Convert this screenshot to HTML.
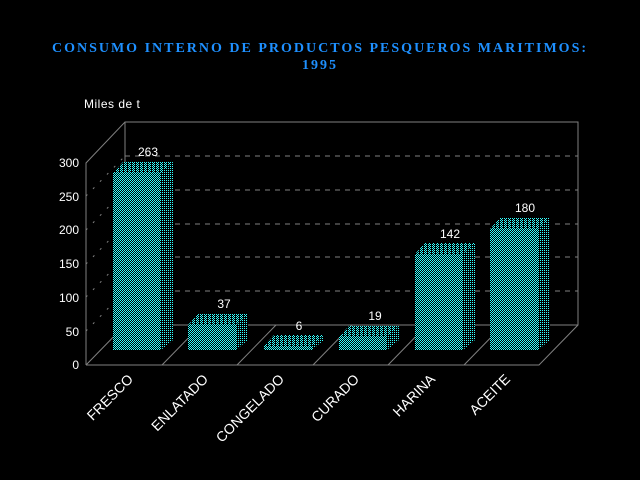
<!DOCTYPE html>
<html><head><meta charset="utf-8"><style>
html,body{margin:0;padding:0;background:#000;width:640px;height:480px;overflow:hidden}
</style></head><body>
<svg width="640" height="480" xmlns="http://www.w3.org/2000/svg" style="display:block">
<defs>
<pattern id="pf" width="2" height="2" patternUnits="userSpaceOnUse"><rect width="2" height="2" fill="#000"/><rect width="1" height="1" fill="#3ff"/><rect x="1" y="1" width="1" height="1" fill="#3ff"/></pattern>
<pattern id="pt" width="4" height="2" patternUnits="userSpaceOnUse"><rect width="4" height="2" fill="#000"/><rect width="1" height="1" fill="#3ff"/><rect x="2" width="1" height="1" fill="#3ff"/><rect x="1" y="1" width="1" height="1" fill="#3ff"/></pattern>
<pattern id="ps" width="2" height="2" patternUnits="userSpaceOnUse"><rect width="2" height="2" fill="#000"/><rect width="1" height="1" fill="#3ff"/></pattern>
</defs>
<text x="320" y="52" fill="#1e90ff" font-family="Liberation Serif, serif" font-weight="bold" font-size="14" letter-spacing="2" text-anchor="middle">CONSUMO INTERNO DE PRODUCTOS PESQUEROS MARITIMOS:</text>
<text x="320" y="69" fill="#1e90ff" font-family="Liberation Serif, serif" font-weight="bold" font-size="14" letter-spacing="2" text-anchor="middle">1995</text>
<text x="84" y="108" fill="#fff" font-family="Liberation Sans, sans-serif" font-size="12" letter-spacing="0.5">Miles de t</text>
<g stroke="#808080" stroke-width="1" fill="none">
<polyline points="86,365 86,163 125,122 578,122 578,325 539,365 86,365"/>
<line x1="125" y1="122" x2="125" y2="325"/>
<line x1="125" y1="325" x2="578" y2="325"/>
<line x1="86" y1="365" x2="125" y2="325"/>
<line x1="162" y1="365" x2="201" y2="325"/>
<line x1="237" y1="365" x2="276" y2="325"/>
<line x1="313" y1="365" x2="352" y2="325"/>
<line x1="388" y1="365" x2="427" y2="325"/>
<line x1="464" y1="365" x2="503" y2="325"/>
</g>
<g stroke="#808080" stroke-width="1" stroke-dasharray="5,5">
<line x1="125" y1="291" x2="578" y2="291"/><line x1="125" y1="257" x2="578" y2="257"/>
<line x1="125" y1="224" x2="578" y2="224"/><line x1="125" y1="190" x2="578" y2="190"/>
<line x1="125" y1="156" x2="578" y2="156"/>
<line x1="86" y1="331" x2="125" y2="291" stroke-dasharray="2,8"/><line x1="86" y1="297" x2="125" y2="257" stroke-dasharray="2,8"/>
<line x1="86" y1="264" x2="125" y2="224" stroke-dasharray="2,8"/><line x1="86" y1="230" x2="125" y2="190" stroke-dasharray="2,8"/>
<line x1="86" y1="196" x2="125" y2="156" stroke-dasharray="2,8"/>
</g>
<g fill="#fff" font-family="Liberation Sans, sans-serif" font-size="12" text-anchor="end">
<text x="79" y="369">0</text><text x="79" y="336">50</text><text x="79" y="302">100</text>
<text x="79" y="268">150</text><text x="79" y="234">200</text><text x="79" y="201">250</text><text x="79" y="167">300</text>
</g>
<g>
<polygon points="113,173 123,162 173,162 161,173" fill="url(#pt)"/><polygon points="161,173 173,162 173,340 161,350" fill="url(#ps)"/><rect x="113" y="173" width="48" height="177" fill="url(#pf)"/>
<polygon points="188,325 198,314 248,314 236,325" fill="url(#pt)"/><polygon points="236,325 248,314 248,340 236,350" fill="url(#ps)"/><rect x="188" y="325" width="48" height="25" fill="url(#pf)"/>
<polygon points="264,346 274,335 324,335 312,346" fill="url(#pt)"/><polygon points="312,346 324,335 324,340 312,350" fill="url(#ps)"/><rect x="264" y="346" width="48" height="4" fill="url(#pf)"/>
<polygon points="339,337 349,326 399,326 387,337" fill="url(#pt)"/><polygon points="387,337 399,326 399,340 387,350" fill="url(#ps)"/><rect x="339" y="337" width="48" height="13" fill="url(#pf)"/>
<polygon points="415,254 425,243 475,243 463,254" fill="url(#pt)"/><polygon points="463,254 475,243 475,340 463,350" fill="url(#ps)"/><rect x="415" y="254" width="48" height="96" fill="url(#pf)"/>
<polygon points="490,229 500,218 550,218 538,229" fill="url(#pt)"/><polygon points="538,229 550,218 550,340 538,350" fill="url(#ps)"/><rect x="490" y="229" width="48" height="121" fill="url(#pf)"/>
</g>
<g fill="#fff" font-family="Liberation Sans, sans-serif" font-size="12" text-anchor="middle">
<text x="148" y="156">263</text><text x="224" y="308">37</text><text x="299" y="330">6</text>
<text x="375" y="320">19</text><text x="450" y="238">142</text><text x="525" y="212">180</text>
</g>
<g fill="#fff" font-family="Liberation Sans, sans-serif" font-size="14" text-anchor="end">
<text transform="translate(134,380) rotate(-45)">FRESCO</text>
<text transform="translate(209,380) rotate(-45)">ENLATADO</text>
<text transform="translate(285,380) rotate(-45)">CONGELADO</text>
<text transform="translate(360,380) rotate(-45)">CURADO</text>
<text transform="translate(436,380) rotate(-45)">HARINA</text>
<text transform="translate(511,380) rotate(-45)">ACEITE</text>
</g>
</svg>
</body></html>
